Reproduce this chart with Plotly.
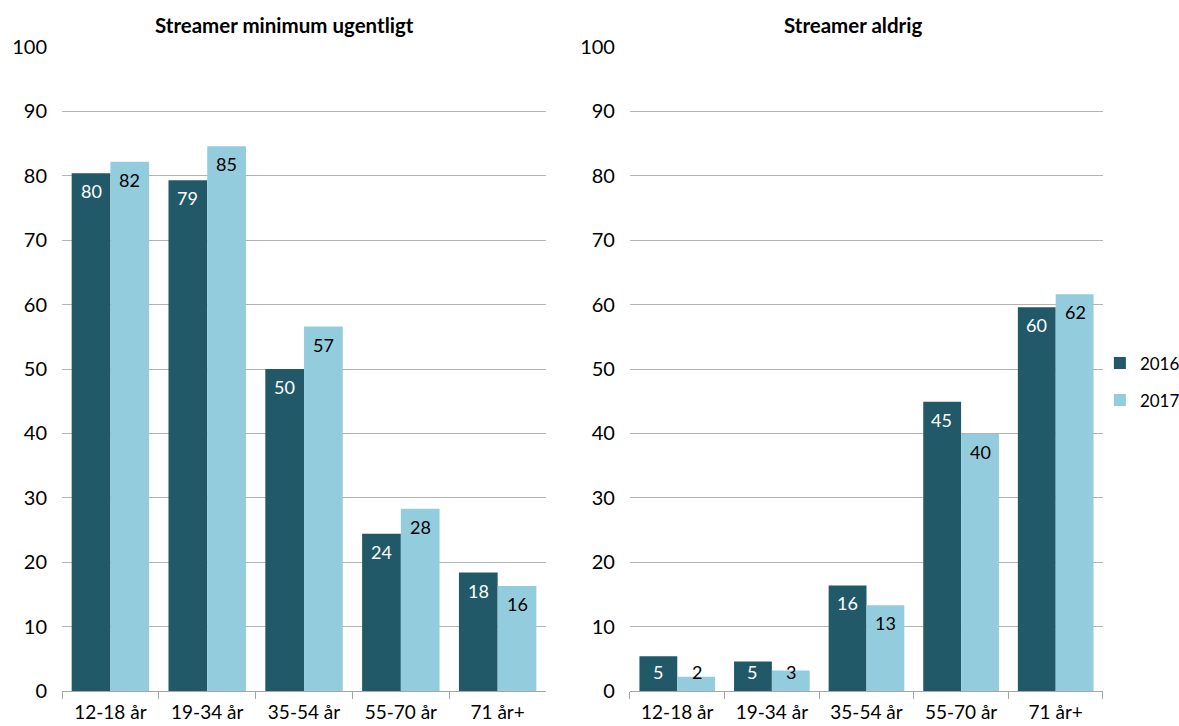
import plotly.graph_objects as go
from plotly.subplots import make_subplots

categories = ["12-18 år", "19-34 år", "35-54 år", "55-70 år", "71 år+"]

# Share streaming at least weekly
weekly_2016 = [80.4, 79.3, 50.0, 24.4, 18.4]
weekly_2017 = [82.2, 84.6, 56.6, 28.3, 16.3]

# Share never streaming
never_2016 = [5.4, 4.6, 16.4, 44.9, 59.6]
never_2017 = [2.2, 3.2, 13.3, 39.9, 61.6]

titles = ["Streamer minimum ugentligt", "Streamer aldrig"]
years = ["2016", "2017"]
colors = ["#215968", "#93CDDD"]
text_colors = ["white", "black"]

FONT = "Lato, Calibri, sans-serif"
PLOT_H = 726 - 47 - 35  # pixel height of the plotting area

fig = make_subplots(rows=1, cols=2, horizontal_spacing=0.08)

panels = [(weekly_2016, weekly_2017), (never_2016, never_2017)]
for col, pair in enumerate(panels, start=1):
    for i, vals in enumerate(pair):
        fig.add_trace(
            go.Bar(
                x=categories,
                y=vals,
                name=years[i],
                legendgroup=years[i],
                offsetgroup=str(i),
                marker=dict(color=colors[i], line=dict(width=0)),
                showlegend=(col == 2),
                hoverinfo="x+y",
            ),
            row=1, col=col,
        )
        # value labels just inside the top of each bar
        xref = "x" if col == 1 else "x2"
        yref = "y" if col == 1 else "y2"
        for cat, v in zip(categories, vals):
            bar_px = v / 100 * PLOT_H
            inside = bar_px >= 37
            fig.add_annotation(
                x=cat, y=v if inside else 0, xref=xref, yref=yref,
                xshift=(-1 if i == 0 else 1) * 19.4,
                yshift=-18 if inside else 19,
                text=f"{v:.0f}", showarrow=False,
                xanchor="center", yanchor="middle",
                font=dict(family=FONT, size=18, color=text_colors[i]),
            )

fig.update_layout(
    width=1179,
    height=726,
    margin=dict(l=62, r=76, t=47, b=35, autoexpand=False),
    paper_bgcolor="white",
    plot_bgcolor="white",
    barmode="group",
    bargap=0.2,
    bargroupgap=0,
    font=dict(family=FONT, size=17, color="black"),
    legend=dict(
        x=0.997, y=0.48, xanchor="left", yanchor="middle",
        font=dict(family=FONT, size=17),
        itemwidth=30, tracegroupgap=12,
        bgcolor="rgba(0,0,0,0)",
    ),
)

fig.layout.xaxis.domain = [0, 0.465]
fig.layout.xaxis2.domain = [0.5456, 1]

for ax in ["xaxis", "xaxis2"]:
    fig.layout[ax].update(
        showline=True, linecolor="#a6a6a6", linewidth=1,
        ticks="outside", tickson="boundaries", ticklen=7, tickcolor="#a6a6a6",
        tickfont=dict(family=FONT, size=19),
        ticklabelstandoff=4,
        showgrid=False,
    )

for ax in ["yaxis", "yaxis2"]:
    fig.layout[ax].update(
        range=[0, 100], dtick=10,
        showgrid=True, gridcolor="#b3b3b3", gridwidth=1,
        zeroline=False, showline=False, ticks="",
        tickfont=dict(family=FONT, size=20),
        ticklabelstandoff=14,
    )

# panel titles, centred over each panel including its value axis
title_x = [284, 853]
for t, px in zip(titles, title_x):
    fig.add_annotation(
        text=f"<b>{t}</b>", xref="paper", yref="paper",
        x=(px - 62) / (1179 - 62 - 76), y=1.0, yshift=22, showarrow=False,
        font=dict(family=FONT, size=20.5, color="black"),
        xanchor="center", yanchor="middle",
    )

fig.write_html("out.html")
